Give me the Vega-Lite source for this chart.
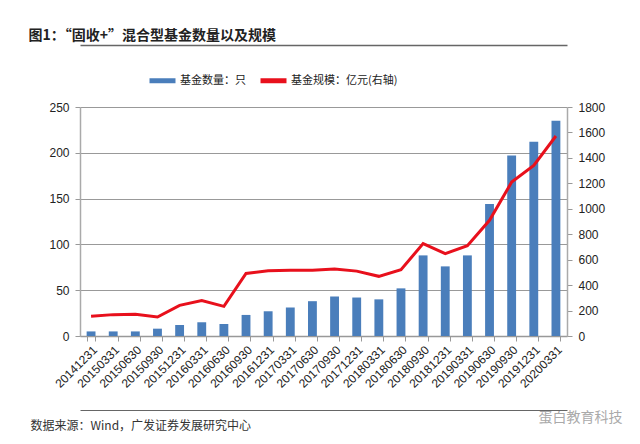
{
  "$schema": "https://vega.github.io/schema/vega-lite/v6.json",
  "autosize": "none",
  "width": 487,
  "height": 229,
  "padding": {"left": 80, "top": 107, "right": 73, "bottom": 108},
  "background": "white",
  "config": {
    "view": {"stroke": null},
    "font": "Liberation Sans",
    "axis": {"labelFont": "Liberation Sans", "labelFontSize": 12, "labelColor": "#222", "titleFont": "Noto Sans CJK SC"}
  },
  "data": {"values": [
    {"date": "20141231", "count": 5, "scale": 155},
    {"date": "20150331", "count": 5, "scale": 168},
    {"date": "20150630", "count": 5, "scale": 170},
    {"date": "20150930", "count": 8, "scale": 149},
    {"date": "20151231", "count": 12, "scale": 241},
    {"date": "20160331", "count": 15, "scale": 278},
    {"date": "20160630", "count": 13, "scale": 233},
    {"date": "20160930", "count": 23, "scale": 492},
    {"date": "20161231", "count": 27, "scale": 513},
    {"date": "20170331", "count": 31, "scale": 516},
    {"date": "20170630", "count": 38, "scale": 516},
    {"date": "20170930", "count": 43, "scale": 527},
    {"date": "20171231", "count": 42, "scale": 510},
    {"date": "20180331", "count": 40, "scale": 469},
    {"date": "20180630", "count": 52, "scale": 521},
    {"date": "20180930", "count": 88, "scale": 726},
    {"date": "20181231", "count": 76, "scale": 647},
    {"date": "20190331", "count": 88, "scale": 710},
    {"date": "20190630", "count": 144, "scale": 909},
    {"date": "20190930", "count": 197, "scale": 1210},
    {"date": "20191231", "count": 212, "scale": 1341},
    {"date": "20200331", "count": 235, "scale": 1572}
  ]},
  "resolve": {"scale": {"y": "independent"}, "axis": {"x": "independent", "y": "independent"}},
  "layer": [
    {
      "mark": {"type": "bar"},
      "encoding": {
        "x": {"field": "date", "type": "ordinal", "sort": null,
          "scale": {"paddingInner": 0.6, "paddingOuter": 0.3},
          "axis": {"orient": "bottom", "labelAngle": -45, "labelAlign": "right", "labelBaseline": "top", "labelPadding": 3,
            "tickBand": "extent", "tickColor": "#999", "tickSize": 5, "domainColor": "#999", "domainWidth": 1.5,
            "title": "蛋白教育科技", "titleX": 458, "titleY": 85, "titleAlign": "left", "titleBaseline": "alphabetic",
            "titleColor": "#aaa", "titleFontSize": 14, "titleFontWeight": "normal"}},
        "y": {"field": "count", "type": "quantitative",
          "scale": {"domain": [0, 250], "nice": false},
          "axis": {"orient": "left", "values": [0, 50, 100, 150, 200, 250], "title": null,
            "grid": true, "gridColor": "#999", "gridWidth": 1, "domainColor": "#aaa", "domainWidth": 1.5,
            "tickColor": "#999", "tickSize": 5, "labelPadding": 6}},
        "color": {"datum": "基金数量：只", "type": "nominal",
          "scale": {"domain": ["基金数量：只", "基金规模：亿元(右轴)"], "range": ["#4a7ebb", "#e8101c"]},
          "legend": {"orient": "none", "legendX": 67, "legendY": -42, "direction": "horizontal", "title": null,
            "symbolType": "stroke", "symbolSize": 676, "symbolStrokeWidth": 5,
            "labelFont": "Noto Sans CJK SC", "labelFontSize": 11, "labelColor": "#222", "columnPadding": 4, "labelOffset": 2}}
      }
    },
    {
      "mark": {"type": "line", "strokeWidth": 3},
      "encoding": {
        "x": {"field": "date", "type": "ordinal", "sort": null,
          "axis": {"orient": "top", "offset": 62, "labels": false, "ticks": false, "grid": false,
            "domainColor": "#666", "domainWidth": 1.5,
            "title": "图1：“固收+”混合型基金数量以及规模", "titleX": -52, "titleY": -6, "titleAlign": "left",
            "titleBaseline": "alphabetic", "titleFontSize": 14, "titleFontWeight": "bold", "titleColor": "#222"}},
        "y": {"field": "scale", "type": "quantitative",
          "scale": {"domain": [0, 1800], "nice": false},
          "axis": {"orient": "right", "values": [0, 200, 400, 600, 800, 1000, 1200, 1400, 1600, 1800], "format": "d", "title": null,
            "grid": false, "domainColor": "#aaa", "domainWidth": 1.5, "tickColor": "#999", "tickSize": 5, "labelPadding": 6}},
        "color": {"datum": "基金规模：亿元(右轴)", "type": "nominal"}
      }
    },
    {
      "mark": {"type": "point", "opacity": 0},
      "encoding": {
        "x": {"field": "date", "type": "ordinal", "sort": null,
          "axis": {"orient": "bottom", "offset": 74, "labels": false, "ticks": false, "grid": false,
            "domainColor": "#666", "domainWidth": 1,
            "title": "数据来源：Wind，广发证券发展研究中心", "titleX": -50, "titleY": 19, "titleAlign": "left",
            "titleBaseline": "alphabetic", "titleFontSize": 12, "titleFontWeight": "normal", "titleColor": "#333"}},
        "y": {"field": "count", "type": "quantitative", "axis": null}
      }
    }
  ]
}
